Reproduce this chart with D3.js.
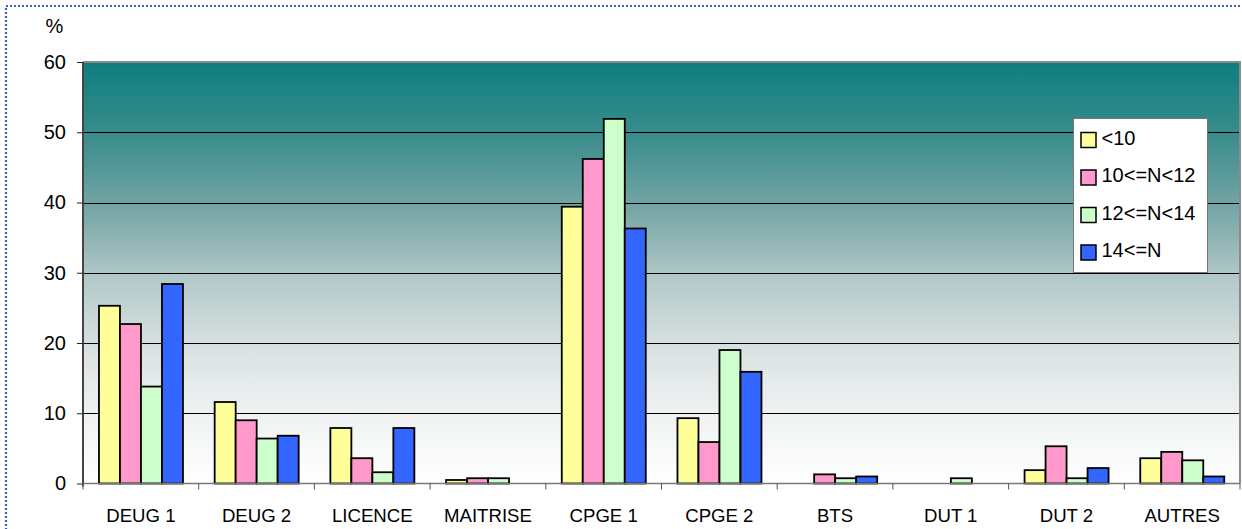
<!DOCTYPE html>
<html><head><meta charset="utf-8">
<script src="https://cdn.jsdelivr.net/npm/d3@7"></script>
<style>html,body{margin:0;padding:0;background:#fff;}svg{display:block;}</style>
</head><body>
<svg id="c" width="1242" height="529"></svg>
<script>
const categories = ["DEUG 1","DEUG 2","LICENCE","MAITRISE","CPGE 1","CPGE 2","BTS","DUT 1","DUT 2","AUTRES"];
const seriesNames = ["<10","10<=N<12","12<=N<14","14<=N"];
const s1 = [25.3, 11.6, 7.9, 0.5, 39.4, 9.3, 0, 0, 1.9, 3.6];
const s2 = [22.7, 9.0, 3.6, 0.75, 46.2, 5.9, 1.3, 0, 5.3, 4.5];
const s3 = [13.8, 6.4, 1.6, 0.75, 51.9, 19.0, 0.75, 0.75, 0.75, 3.3];
const s4 = [28.4, 6.8, 7.9, 0, 36.3, 15.9, 1.0, 0, 2.2, 1.0];
const yTicks = [0,10,20,30,40,50,60];
const colors = ["#ffff99","#ff99cc","#ccffcc","#3366ff"];
const series = [s1,s2,s3,s4];

const svg = d3.select("#c");
const L=83, T=62, R=1240, B=483.5;
const font = "'Liberation Sans', Arial, sans-serif";

// outer dotted frame
svg.append("rect").attr("x",6).attr("y",6).attr("width",1250).attr("height",540)
  .attr("fill","none").attr("stroke","#3a5fcd").attr("stroke-width",2.2).attr("stroke-dasharray","2,2");

const defs = svg.append("defs");
const g = defs.append("linearGradient").attr("id","bg").attr("x1",0).attr("y1",0).attr("x2",0).attr("y2",1);
[[0,"#0e7e7e"],[0.18,"#3c8d8d"],[0.36,"#7aa8a8"],[0.52,"#b5caca"],[0.7,"#dde4e4"],[0.85,"#f1f3f3"],[1,"#ffffff"]]
  .forEach(([o,c])=>g.append("stop").attr("offset",o).attr("stop-color",c));

const x = d3.scaleBand().domain(categories).range([L,R]).paddingInner(0).paddingOuter(0);
const y = d3.scaleLinear().domain([0,60]).range([B,T]);
const xs = d3.scaleBand().domain(d3.range(4))
  .range([x.bandwidth()*0.138, x.bandwidth()*0.864]).paddingInner(0).paddingOuter(0);

svg.append("rect").attr("x",L).attr("y",T).attr("width",R-L).attr("height",B-T).attr("fill","url(#bg)");

// gridlines
svg.append("g").selectAll("line").data(yTicks.filter(d=>d>0&&d<60)).join("line")
  .attr("x1",L).attr("x2",R).attr("y1",d=>Math.round(y(d))+0.5).attr("y2",d=>Math.round(y(d))+0.5)
  .attr("stroke","#000").attr("stroke-width",1);

// top/right border
svg.append("path").attr("d",`M${L},${T}H${R}V${B}`).attr("fill","none").attr("stroke","#8a8a8a").attr("stroke-width",2);

// bars
const gg = svg.append("g").selectAll("g").data(categories).join("g")
  .attr("transform",d=>`translate(${x(d)},0)`);
gg.selectAll("rect").data((d,i)=>series.map((s,k)=>({k,v:s[i]}))).join("rect")
  .filter(d=>d.v>0)
  .attr("x",d=>xs(d.k)).attr("width",xs.bandwidth())
  .attr("y",d=>y(d.v)).attr("height",d=>B-y(d.v))
  .attr("fill",d=>colors[d.k]).attr("stroke","#000").attr("stroke-width",1.8);

// y axis
const yAxis = svg.append("g").attr("transform",`translate(${L},0)`)
  .call(d3.axisLeft(y).tickValues(yTicks).tickSize(6).tickPadding(11));
yAxis.select(".domain").attr("stroke","#444").attr("stroke-width",2).attr("d",`M0,${T}V${B+3}`);
yAxis.selectAll(".tick line").attr("stroke","#222");
yAxis.selectAll("text").attr("font-family",font).attr("font-size",20).attr("fill","#000");

// x axis
const xAxis = svg.append("g").attr("transform",`translate(0,${B})`)
  .call(d3.axisBottom(x).tickSize(0));
xAxis.select(".domain").attr("stroke","#777").attr("stroke-width",1.5).attr("d",`M${L},0H${R}`);
xAxis.selectAll("text").attr("font-family",font).attr("font-size",18.6).attr("fill","#000")
  .attr("y",38.5).attr("dy",0);
svg.append("g").selectAll("line").data(d3.range(categories.length+1)).join("line")
  .attr("x1",i=>L+i*x.step()).attr("x2",i=>L+i*x.step()).attr("y1",B).attr("y2",B+6)
  .attr("stroke","#555").attr("stroke-width",1);

// % label
svg.append("text").attr("x",54.5).attr("y",33).attr("text-anchor","middle")
  .attr("font-family",font).attr("font-size",20).text("%");

// legend
const lg = svg.append("g").attr("transform","translate(1073,118)");
lg.append("rect").attr("x",0.5).attr("y",0.5).attr("width",134).attr("height",154)
  .attr("fill","#fff").attr("stroke","#777").attr("stroke-width",1);
seriesNames.forEach((n,i)=>{
  const cy = 22 + i*37.5;
  lg.append("rect").attr("x",8).attr("y",cy-7.5).attr("width",15).attr("height",15)
    .attr("fill",colors[i]).attr("stroke","#000").attr("stroke-width",1.5);
  lg.append("text").attr("x",28.5).attr("y",cy+4.5).attr("font-family",font).attr("font-size",20).text(n);
});
</script>
</body></html>
